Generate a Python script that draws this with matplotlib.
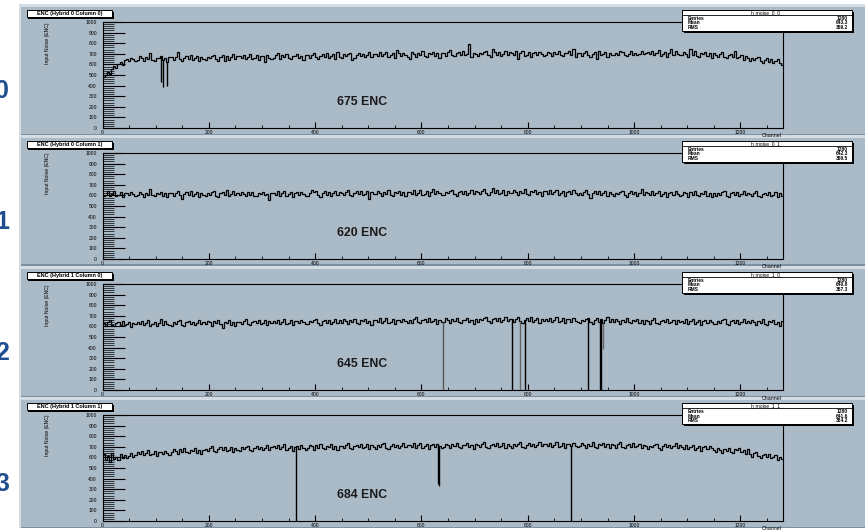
import numpy as np
import matplotlib
matplotlib.use("Agg")
import matplotlib.pyplot as plt
from matplotlib.patches import Rectangle
from matplotlib.ticker import MultipleLocator

plt.rcParams['font.family'] = ['Liberation Sans', 'DejaVu Sans']

# ---- data (4 channels per value) ----
titles = ["ENC (Hybrid 0 Column 0)", "ENC (Hybrid 0 Column 1)",
          "ENC (Hybrid 1 Column 0)", "ENC (Hybrid 1 Column 1)"]
hist_names = ["h_rnoise_0_0_", "h_rnoise_0_1_", "h_rnoise_1_0_", "h_rnoise_1_1_"]
entries = [1280, 1280, 1280, 1280]
means = [643.3, 642.3, 640.8, 641.6]
rms = [369.2, 369.5, 367.3, 364.2]
enc_labels = ["675 ENC", "620 ENC", "645 ENC", "684 ENC"]
side_labels = ["0", "1", "2", "3"]

n_channels = 1280
bin_width = 4

noise_h0c0 = [
    478, 500, 530, 512, 560, 585, 570, 600, 622, 598, 640, 655, 628, 662, 648, 635,
    645, 675, 660, 630, 670, 650, 705, 643, 633, 665, 658, 679, 639, 663, 625, 667,
    666, 642, 674, 715, 650, 636, 664, 679, 652, 686, 646, 658, 680, 634, 671, 654,
    643, 674, 661, 682, 692, 652, 636, 672, 686, 630, 681, 646, 667, 694, 654, 678,
    680, 660, 693, 653, 673, 698, 648, 663, 686, 640, 676, 683, 625, 690, 665, 650,
    662, 692, 705, 647, 687, 667, 700, 660, 650, 682, 675, 696, 656, 680, 642, 684,
    684, 660, 692, 710, 668, 654, 682, 697, 670, 704, 664, 676, 698, 652, 720, 672,
    663, 694, 681, 702, 712, 640, 656, 692, 706, 676, 701, 666, 687, 714, 674, 698,
    702, 682, 715, 675, 695, 720, 670, 685, 708, 662, 735, 705, 678, 712, 687, 672,
    650, 715, 700, 670, 710, 690, 723, 683, 673, 705, 698, 719, 679, 703, 665, 707,
    706, 682, 714, 732, 690, 676, 704, 719, 692, 726, 686, 698, 790, 674, 711, 694,
    678, 709, 696, 717, 727, 687, 671, 745, 721, 691, 716, 681, 702, 729, 689, 713,
    710, 690, 723, 655, 703, 728, 678, 693, 716, 670, 706, 713, 686, 720, 695, 680,
    690, 720, 705, 675, 715, 695, 728, 688, 678, 710, 703, 724, 684, 745, 670, 712,
    704, 680, 712, 730, 688, 674, 702, 717, 655, 724, 684, 696, 718, 672, 709, 692,
    684, 703, 690, 722, 718, 693, 676, 700, 726, 688, 711, 686, 697, 724, 694, 707,
    714, 694, 727, 687, 707, 732, 682, 697, 720, 674, 710, 750, 690, 724, 699, 684,
    685, 715, 700, 670, 745, 690, 723, 683, 673, 705, 698, 719, 679, 703, 665, 707,
    691, 667, 699, 715, 673, 659, 685, 698, 670, 725, 660, 672, 692, 646, 682, 664,
    628, 658, 644, 664, 672, 630, 612, 646, 658, 626, 650, 612, 630, 655, 612, 595]

noise_h0c1 = [
    590, 604, 637, 597, 617, 642, 592, 607, 630, 584, 620, 627, 600, 634, 609, 594,
    602, 632, 617, 587, 627, 607, 660, 600, 590, 622, 615, 636, 596, 620, 582, 624,
    618, 594, 626, 644, 602, 565, 616, 631, 604, 638, 598, 610, 632, 586, 623, 606,
    590, 621, 608, 629, 639, 599, 583, 619, 633, 603, 655, 593, 614, 641, 601, 625,
    606, 628, 612, 590, 631, 604, 636, 598, 594, 625, 610, 633, 600, 617, 560, 620,
    626, 606, 639, 599, 619, 644, 594, 609, 632, 586, 622, 629, 602, 636, 611, 596,
    594, 625, 655, 633, 643, 603, 587, 623, 637, 607, 632, 597, 618, 645, 605, 629,
    624, 600, 632, 650, 608, 594, 622, 637, 610, 644, 604, 616, 638, 570, 629, 612,
    610, 640, 625, 595, 635, 615, 648, 608, 598, 630, 623, 644, 604, 628, 590, 632,
    634, 614, 647, 607, 627, 652, 602, 617, 640, 594, 630, 660, 610, 644, 619, 604,
    603, 634, 621, 642, 652, 612, 596, 632, 646, 616, 641, 606, 627, 654, 614, 638,
    634, 610, 642, 660, 618, 604, 632, 670, 620, 654, 614, 626, 648, 602, 639, 622,
    618, 648, 633, 603, 643, 623, 656, 616, 606, 638, 631, 652, 612, 636, 598, 640,
    637, 617, 650, 610, 630, 655, 605, 620, 643, 597, 633, 640, 613, 647, 622, 607,
    626, 602, 634, 652, 610, 575, 624, 639, 612, 646, 606, 618, 640, 594, 631, 614,
    596, 627, 614, 635, 645, 605, 589, 625, 639, 609, 634, 599, 620, 662, 607, 631,
    627, 607, 640, 600, 620, 645, 595, 610, 633, 587, 623, 630, 603, 637, 612, 597,
    603, 633, 618, 588, 628, 608, 641, 601, 591, 623, 616, 637, 597, 621, 583, 625,
    590, 621, 608, 629, 639, 599, 583, 619, 633, 603, 628, 593, 614, 641, 601, 625,
    614, 590, 622, 640, 598, 584, 612, 627, 600, 634, 594, 606, 628, 582, 619, 598]

noise_h1c0 = [
    631, 607, 639, 657, 615, 601, 629, 644, 617, 651, 611, 623, 645, 599, 636, 619,
    640, 620, 653, 613, 633, 658, 608, 623, 646, 600, 636, 668, 616, 650, 625, 610,
    608, 639, 626, 647, 657, 617, 601, 637, 651, 621, 646, 611, 632, 659, 619, 643,
    623, 653, 638, 608, 648, 628, 661, 621, 585, 643, 636, 657, 617, 641, 603, 645,
    642, 618, 650, 668, 626, 612, 640, 655, 628, 662, 622, 634, 656, 610, 647, 630,
    652, 632, 665, 625, 645, 670, 620, 635, 658, 612, 648, 655, 628, 662, 637, 622,
    621, 652, 639, 660, 670, 630, 614, 650, 664, 634, 659, 624, 645, 672, 632, 656,
    636, 666, 651, 621, 661, 641, 674, 634, 624, 656, 649, 670, 630, 654, 616, 658,
    662, 642, 675, 635, 655, 680, 630, 645, 668, 622, 658, 665, 638, 672, 647, 632,
    658, 634, 666, 684, 642, 628, 656, 671, 644, 678, 638, 650, 672, 626, 663, 646,
    645, 675, 660, 630, 670, 650, 683, 643, 633, 665, 658, 679, 639, 663, 625, 667,
    638, 669, 656, 677, 687, 647, 631, 667, 681, 651, 676, 641, 662, 689, 649, 673,
    666, 642, 674, 692, 650, 636, 664, 679, 652, 686, 646, 658, 680, 634, 671, 654,
    670, 650, 683, 643, 663, 688, 638, 653, 676, 630, 666, 673, 646, 680, 655, 640,
    633, 664, 651, 672, 682, 642, 626, 662, 676, 646, 671, 636, 657, 684, 644, 668,
    640, 670, 655, 625, 665, 645, 678, 638, 628, 660, 653, 674, 634, 658, 620, 662,
    651, 627, 659, 677, 635, 621, 649, 664, 637, 671, 631, 643, 665, 619, 656, 639,
    654, 634, 667, 627, 647, 672, 622, 637, 660, 614, 650, 657, 630, 664, 639, 624,
    618, 649, 636, 657, 667, 627, 611, 647, 661, 631, 656, 621, 642, 669, 629, 653,
    628, 658, 643, 613, 653, 633, 666, 626, 616, 648, 641, 662, 622, 646, 608, 650]

noise_h1c1 = [
    630, 575, 612, 560, 640, 585, 600, 572, 628, 598, 620, 590, 612, 640, 605, 622,
    652, 632, 665, 625, 645, 670, 620, 635, 658, 612, 648, 655, 628, 662, 637, 622,
    650, 680, 665, 635, 675, 655, 688, 648, 638, 670, 663, 684, 644, 668, 630, 672,
    681, 657, 689, 707, 665, 651, 679, 694, 667, 701, 661, 673, 695, 649, 686, 669,
    663, 694, 681, 702, 712, 672, 656, 692, 706, 676, 701, 666, 687, 714, 674, 698,
    704, 684, 717, 677, 697, 722, 672, 687, 710, 664, 700, 707, 680, 714, 689, 674,
    688, 718, 703, 673, 713, 693, 726, 686, 676, 708, 701, 722, 682, 706, 668, 710,
    708, 684, 716, 734, 692, 678, 706, 721, 694, 728, 688, 700, 722, 676, 713, 696,
    683, 714, 701, 722, 732, 692, 676, 712, 726, 696, 721, 686, 707, 734, 694, 718,
    720, 700, 733, 693, 713, 738, 688, 703, 726, 680, 716, 723, 696, 730, 705, 690,
    700, 730, 715, 685, 725, 705, 738, 698, 688, 720, 713, 734, 694, 718, 680, 722,
    718, 694, 726, 744, 702, 688, 716, 731, 704, 738, 698, 710, 732, 686, 723, 706,
    692, 723, 710, 731, 741, 701, 685, 721, 735, 705, 730, 695, 716, 743, 703, 727,
    727, 707, 740, 700, 720, 745, 695, 710, 733, 687, 723, 730, 703, 737, 712, 697,
    704, 734, 719, 689, 729, 709, 742, 702, 692, 724, 717, 738, 698, 722, 684, 726,
    716, 692, 724, 742, 700, 686, 714, 729, 702, 736, 696, 708, 730, 684, 721, 704,
    681, 712, 699, 720, 730, 690, 674, 710, 724, 694, 719, 684, 705, 732, 692, 716,
    702, 682, 715, 675, 695, 720, 670, 685, 708, 662, 698, 705, 678, 712, 687, 672,
    655, 685, 670, 640, 680, 660, 693, 653, 643, 675, 668, 689, 649, 673, 635, 677,
    631, 607, 639, 650, 612, 598, 626, 632, 605, 630, 592, 600, 618, 575, 605, 585]

noise = [noise_h0c0, noise_h0c1, noise_h1c0, noise_h1c1]

# bad channels: (channel, lowest value, colour)
bad_h0c0 = [(110, 430, 'black'), (114, 385, 'black'), (121, 400, 'black')]
bad_h0c1 = []
bad_h1c0 = [(640, 0, '#555555'), (770, 0, 'black'), (785, 0, '#666666'),
            (795, 0, 'black'), (913, 0, 'black'), (935, 0, 'black'),
            (937, 0, 'black'), (940, 390, '#666666')]
bad_h1c1 = [(364, 0, 'black'), (630, 350, 'black'), (632, 330, 'black'),
            (880, 0, 'black')]
bad_channels = [bad_h0c0, bad_h0c1, bad_h1c0, bad_h1c1]

# ---- layout (pixels) ----
W, H = 865, 530
pad_col = '#abbac7'

fig = plt.figure(figsize=(W / 100, H / 100), dpi=100)
fig.patch.set_facecolor('white')


def frect(x0, y0, x1, y1, z=-1, **kw):
    r = Rectangle((x0 / W, 1 - y1 / H), (x1 - x0) / W, (y1 - y0) / H,
                  transform=fig.transFigure, zorder=z, **kw)
    fig.add_artist(r)
    return r


def ftext(x, y, s, **kw):
    return fig.text(x / W, 1 - y / H, s, zorder=6, **kw)


edges = np.arange(0, n_channels + 1, bin_width)

for i in range(4):
    top = 8 + 131 * i

    # pad
    frect(19, top - 4, 866, top + 127, facecolor=pad_col, edgecolor='none')
    frect(19, top - 4, 866, top - 1, facecolor='#d3dce3', edgecolor='none')
    frect(19, top + 125.5, 866, top + 127, facecolor='#7e909f', edgecolor='none')
    frect(19, top - 4, 20.5, top + 127, facecolor='#d3dce3', edgecolor='none')

    # frame
    ax = fig.add_axes([102.5 / W, 1 - (top + 120) / H, (783 - 102.5) / W, 106 / H])
    ax.set_facecolor(pad_col)
    vals = noise[i]
    ax.stairs(vals, edges, baseline=None, color='black', lw=0.9)
    for ch, low, col in bad_channels[i]:
        ax.vlines(ch + 0.5, low, vals[ch // bin_width], colors=col, lw=1.0)
    ax.set_xlim(0, n_channels)
    ax.set_ylim(0, 1000)

    ax.xaxis.set_major_locator(MultipleLocator(200))
    ax.xaxis.set_minor_locator(MultipleLocator(50))
    ax.yaxis.set_major_locator(MultipleLocator(100))
    ax.yaxis.set_minor_locator(MultipleLocator(20))
    ax.tick_params(axis='y', which='major', direction='in', length=15.8,
                   width=0.8, labelsize=3.6, pad=4)
    ax.tick_params(axis='y', which='minor', direction='in', length=7.9, width=0.5)
    ax.tick_params(axis='x', which='major', direction='in', length=4.3,
                   width=0.8, labelsize=3.6, pad=1.5)
    ax.tick_params(axis='x', which='minor', direction='in', length=2.2, width=0.6)
    for sp in ax.spines.values():
        sp.set_linewidth(0.8)

    # axis titles
    ftext(48, top + 14, "Input Noise (ENC)", rotation=90, ha='center', va='top',
          fontsize=3.7)
    ftext(782, top + 128, "Channel", ha='right', va='center', fontsize=3.8)

    # title box
    frect(28.5, top + 3.5, 113.5, top + 10.5, z=4, facecolor='black', edgecolor='none')
    frect(27, top + 2, 112, top + 9, z=5, facecolor='white', edgecolor='black', lw=0.7)
    ftext(69.5, top + 5.6, titles[i], ha='center', va='center', fontsize=4,
          weight='bold')

    # stats box
    frect(684, top + 4, 854, top + 25, z=4, facecolor='black', edgecolor='none')
    frect(682, top + 2, 852, top + 23, z=5, facecolor='white', edgecolor='black', lw=0.7)
    frect(682, top + 7, 852, top + 7.01, z=5, facecolor='none', edgecolor='black', lw=0.6)
    ftext(767, top + 4.6, hist_names[i], ha='center', va='center', fontsize=3.5)
    rows = [("Entries", f"{entries[i]}"), ("Mean", f"{means[i]:.1f}"),
            ("RMS", f"{rms[i]:.1f}")]
    for k, (lab, val) in enumerate(rows):
        yy = top + 10.5 + 4.5 * k
        ftext(688, yy, lab, ha='left', va='center', fontsize=3.5, weight='bold')
        ftext(848, yy, val, ha='right', va='center', fontsize=3.5, weight='bold')

    # mean noise annotation
    ftext(337, top + 94, enc_labels[i], ha='left', va='center', fontsize=8.8,
          weight='bold', color='#1a1a1a')

    # big side label (cut at left edge)
    ftext(9, top + 83, side_labels[i], ha='right', va='center', fontsize=18,
          weight='bold', color='#1f4f8f')

fig.savefig('out.png', dpi=100)
